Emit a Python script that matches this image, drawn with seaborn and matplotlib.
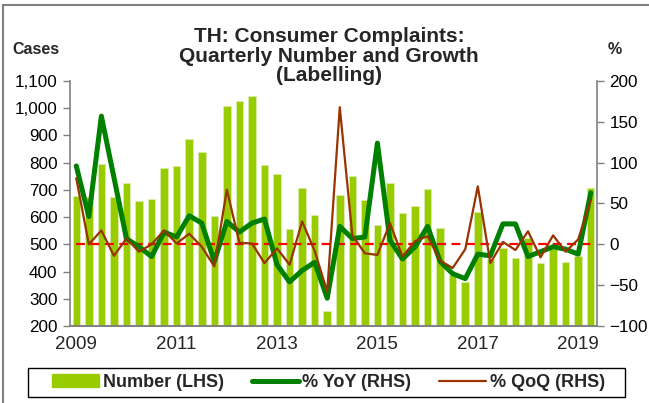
import numpy as np
import pandas as pd
import matplotlib
matplotlib.use('Agg')
import matplotlib.pyplot as plt
import seaborn as sns
from matplotlib.patches import Patch, Rectangle
from matplotlib.lines import Line2D
from matplotlib.ticker import FuncFormatter

# Quarterly data, 2009Q1 .. 2019Q2
years = ['2009', '2011', '2013', '2015', '2017', '2019']
cases = [678, 673, 795, 675, 725, 658, 667, 782, 788, 886, 840, 604,
         1008, 1025, 1045, 791, 758, 555, 708, 608, 256, 681, 751, 663,
         571, 725, 614, 640, 703, 559, 387, 360, 618, 445, 485, 451,
         522, 433, 482, 435, 458, 706]
yoy = [96, 34, 157, 82, 7, -3, -15, 15, 9, 35, 26, -21,
       28, 15, 26, 31, -25, -46, -32, -22, -66, 22, 7, 9,
       124, 5, -18, -3, 22, -21, -36, -42, -12, -14, 25, 25,
       -15, -9, -3, -6, -12, 63]
qoq = [81, 0, 17, -14, 7, -9, 0, 17, 1, 13, -3, -27,
       67, 2, 1, -23, -5, -25, 28, -8, -58, 168, 11, -11,
       -13, 26, -15, 4, 10, -20, -29, -6, 71, -23, 3, -7,
       16, -16, 11, -9, 6, 54]

df = pd.DataFrame({'q': np.arange(len(cases)), 'cases': cases, 'yoy': yoy, 'qoq': qoq})

sns.set_theme(style='white')
plt.rcParams['font.family'] = ['Liberation Sans', 'DejaVu Sans']

fig = plt.figure(figsize=(6.49, 4.03), dpi=100)
ax = fig.add_axes([70 / 649, 1 - 326 / 403, 527 / 649, 245 / 403])
ax2 = ax.twinx()

sns.barplot(data=df, x='q', y='cases', color='#99CC00', saturation=1, width=0.6,
            edgecolor='#d8ecaa', linewidth=0.6, native_scale=True, ax=ax)
ax2.hlines(0, df['q'].iloc[0], df['q'].iloc[-1], colors='red', linestyles=(0, (4, 2.5)), lw=1.6)
sns.lineplot(data=df, x='q', y='yoy', color='#008000', lw=3.6, ax=ax2)
sns.lineplot(data=df, x='q', y='qoq', color='#993300', lw=1.6, ax=ax2)

ax.set_xlim(-0.5, len(cases) - 0.5)
ax.set_ylim(200, 1100)
ax2.set_ylim(-100, 200)
ax.set_yticks(range(200, 1101, 100))
ax2.set_yticks(range(-100, 201, 50))
ax.yaxis.set_major_formatter(FuncFormatter(lambda v, p: f'{int(v):,}'))

# year boundaries as tick marks, labels under the first quarter of every other year
ax.set_xticks(np.arange(-0.5, len(cases) - 1, 4))
ax.set_xticklabels([])
ax.set_xticks(np.arange(0, len(cases), 8), years, minor=True)

for a in (ax, ax2):
    a.set_xlabel('')
    a.set_ylabel('')
    a.spines['top'].set_visible(False)
    for s in ('left', 'right', 'bottom'):
        a.spines[s].set_color('#808080')
        a.spines[s].set_linewidth(1.2)
    a.tick_params(axis='both', which='major', direction='out', length=5, width=1, color='#808080',
                  labelsize=12.3, labelcolor='black', pad=4)
ax.spines['right'].set_visible(False)
ax2.spines['left'].set_visible(False)
ax.tick_params(axis='x', which='minor', length=0, labelsize=13.5, pad=7)

fig.text(0.507, 1 - 56 / 403, 'TH: Consumer Complaints:\nQuarterly Number and Growth\n(Labelling)',
         ha='center', va='center', fontsize=15, fontweight='bold', linespacing=1.05)
fig.text(12 / 649, 1 - 49 / 403, 'Cases', ha='left', va='center', fontsize=11.5, fontweight='bold')
fig.text(615 / 649, 1 - 49 / 403, '%', ha='center', va='center', fontsize=11.5, fontweight='bold')

handles = [Patch(color='#99CC00'),
           Line2D([], [], color='#008000', lw=3.6),
           Line2D([], [], color='#993300', lw=1.6)]
labels = ['Number (LHS)', '% YoY (RHS)', '% QoQ (RHS)']
fig.legend(handles, labels, loc='center', ncol=3, mode='expand',
           bbox_to_anchor=(52 / 649, 1 - 397 / 403, 553 / 649, 29 / 403),
           frameon=False, handlelength=2.6, handletextpad=0.2, columnspacing=1.0,
           borderpad=0, borderaxespad=0, prop={'weight': 'bold', 'size': 13})
fig.patches.append(Rectangle((28 / 649, 1 - 397 / 403), 597 / 649, 29 / 403,
                             transform=fig.transFigure, fill=False, edgecolor='black', lw=1.0))

fig.patches.append(Rectangle((3 / 649, -0.1), 1.2, 1.1 - 5 / 403, transform=fig.transFigure,
                             fill=False, edgecolor='#808080', lw=1.5))

fig.savefig('out.png', dpi=100)
